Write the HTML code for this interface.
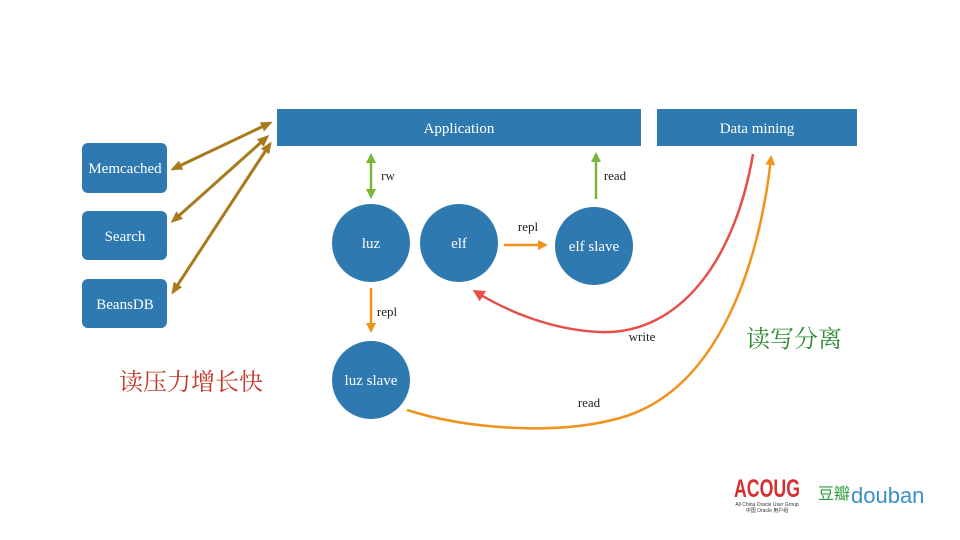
<!DOCTYPE html>
<html><head><meta charset="utf-8"><style>
html,body{margin:0;padding:0;background:#fff;}
svg{display:block;}
text{font-family:"Liberation Serif",serif;}
</style></head><body>
<svg width="960" height="540" viewBox="0 0 960 540" xmlns="http://www.w3.org/2000/svg">
<defs>
<marker id="mb" markerWidth="12" markerHeight="10" refX="9" refY="5" orient="auto-start-reverse" markerUnits="userSpaceOnUse"><path d="M0,0 L12,5 L0,10 z" fill="#a87a1c"/></marker>
<marker id="mg" markerWidth="10" markerHeight="10" refX="7" refY="5" orient="auto-start-reverse" markerUnits="userSpaceOnUse"><path d="M0,0 L10,5 L0,10 z" fill="#76b83a"/></marker>
<marker id="mo" markerWidth="10" markerHeight="10" refX="7" refY="5" orient="auto-start-reverse" markerUnits="userSpaceOnUse"><path d="M0,0 L10,5 L0,10 z" fill="#f0921c"/></marker>
<marker id="mr" markerWidth="12" markerHeight="12" refX="8" refY="6" orient="auto" markerUnits="userSpaceOnUse"><path d="M0,0 L12,6 L0,12 z" fill="#e5504a"/></marker>
</defs>
<g fill="#2e79af">
<rect x="82" y="143" width="85" height="50" rx="6"/>
<rect x="82" y="211" width="85" height="49" rx="6"/>
<rect x="82" y="279" width="85" height="49" rx="6"/>
<rect x="277" y="109" width="364" height="37"/>
<rect x="657" y="109" width="200" height="37"/>
<circle cx="371" cy="243" r="39"/>
<circle cx="459" cy="243" r="39"/>
<circle cx="594" cy="246" r="39"/>
<circle cx="371" cy="380" r="39"/>
</g>
<g fill="#fff" font-size="15" text-anchor="middle">
<text x="125" y="173">Memcached</text>
<text x="125" y="241">Search</text>
<text x="125" y="309">BeansDB</text>
<text x="459" y="133">Application</text>
<text x="757" y="133">Data mining</text>
<text x="371" y="248">luz</text>
<text x="459" y="248">elf</text>
<text x="594" y="251">elf slave</text>
<text x="371" y="385">luz slave</text>
</g>
<g stroke="#a87a1c" stroke-width="3" fill="none">
<line x1="173" y1="169" x2="270" y2="123" marker-start="url(#mb)" marker-end="url(#mb)"/>
<line x1="173" y1="221" x2="267" y2="137" marker-start="url(#mb)" marker-end="url(#mb)"/>
<line x1="173" y1="292" x2="270" y2="144" marker-start="url(#mb)" marker-end="url(#mb)"/>
</g>
<g stroke-width="2.5" fill="none">
<line x1="371" y1="156" x2="371" y2="196" stroke="#76b83a" marker-start="url(#mg)" marker-end="url(#mg)"/>
<line x1="596" y1="199" x2="596" y2="155" stroke="#76b83a" marker-end="url(#mg)"/>
<line x1="504" y1="245" x2="545" y2="245" stroke="#f0921c" marker-end="url(#mo)"/>
<line x1="371" y1="288" x2="371" y2="330" stroke="#f0921c" marker-end="url(#mo)"/>
<path d="M753,154 C735,260 680,335 600,332 C550,330 505,310 476,292" stroke="#e5504a" marker-end="url(#mr)"/>
<path d="M407,410 C470,430 560,435 620,418 C720,390 760,260 771,158" stroke="#f0921c" marker-end="url(#mo)"/>
</g>
<g fill="#222" font-size="13" text-anchor="middle">
<text x="388" y="180">rw</text>
<text x="615" y="180">read</text>
<text x="528" y="231">repl</text>
<text x="387" y="316">repl</text>
<text x="642" y="341">write</text>
<text x="589" y="407">read</text>
</g>
<text x="191" y="390" font-size="24" fill="#c0392b" text-anchor="middle" style="font-family:'Noto Serif CJK SC',serif">读压力增长快</text>
<text x="794" y="347" font-size="24" fill="#2e8b2e" text-anchor="middle" style="font-family:'Noto Serif CJK SC',serif">读写分离</text>
<text x="767" y="497" font-size="25" font-weight="bold" fill="#d62f2f" text-anchor="middle" textLength="66" lengthAdjust="spacingAndGlyphs" style="font-family:'Liberation Sans',sans-serif">ACOUG</text>
<text x="767" y="506" font-size="5" fill="#333" text-anchor="middle" style="font-family:'Liberation Sans',sans-serif">All China Oracle User Group</text>
<text x="767" y="512" font-size="5" fill="#333" text-anchor="middle" style="font-family:'Liberation Sans','Noto Sans CJK SC',sans-serif">中国 Oracle 用户组</text>
<text x="818" y="499" font-size="16" fill="#2f9a3a" style="font-family:'Noto Sans CJK SC',sans-serif">豆瓣</text>
<text x="851" y="503" font-size="22" fill="#3a8fc9" style="font-family:'Liberation Sans',sans-serif">douban</text>
</svg>
</body></html>
